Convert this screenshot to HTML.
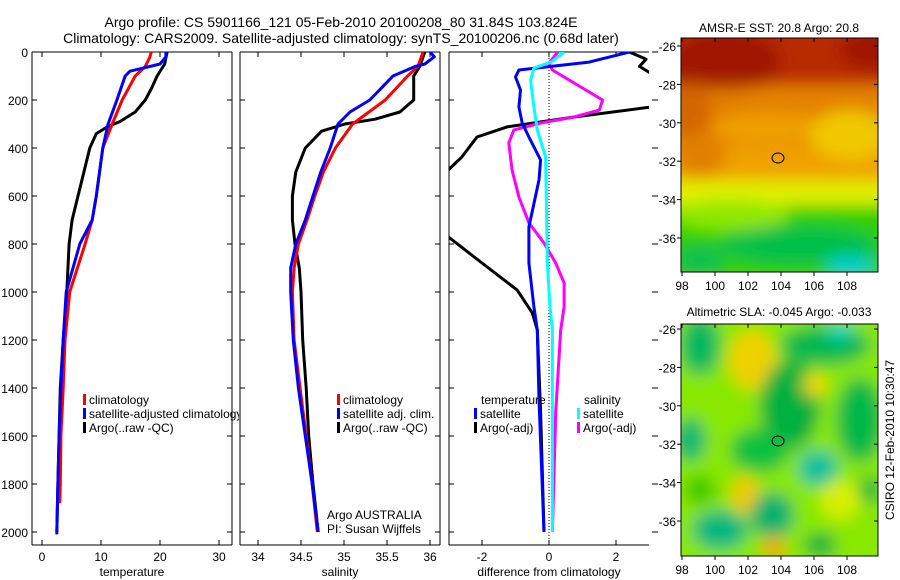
<!DOCTYPE html>
<html><head><meta charset="utf-8"><style>
html,body{margin:0;padding:0;background:#fff;}
svg{display:block;font-family:"Liberation Sans",sans-serif;}
</style></head><body>
<svg id="fig" width="900" height="580" viewBox="0 0 900 580" xmlns="http://www.w3.org/2000/svg">
<defs>
<clipPath id="c1"><rect x="32" y="52" width="200" height="493"/></clipPath>
<clipPath id="c1b"><rect x="32" y="52" width="207" height="493"/></clipPath>
<clipPath id="c2"><rect x="240" y="52" width="200" height="493"/></clipPath>
<clipPath id="c3"><rect x="449" y="52" width="200" height="493"/></clipPath>
<clipPath id="cm1"><rect x="681" y="38" width="197" height="234"/></clipPath>
<clipPath id="cm2"><rect x="681" y="324" width="197" height="232"/></clipPath>
<filter id="blur" x="-20%" y="-20%" width="140%" height="140%"><feGaussianBlur stdDeviation="8"/></filter>
</defs>
<text x="341" y="27" font-size="14" text-anchor="middle">Argo profile: CS 5901166_121 05-Feb-2010 20100208_80 31.84S 103.824E</text>
<text x="341" y="43" font-size="14" text-anchor="middle">Climatology: CARS2009. Satellite-adjusted climatology: synTS_20100206.nc (0.68d later)</text>

<!-- Map 1 -->
<g>
<g clip-path="url(#cm1)"><g filter="url(#blur)">
<rect x="660" y="20" width="240" height="270" fill="#f0a000"/>
<rect x="660" y="20" width="240" height="65" fill="#b82c00"/>
<ellipse cx="725" cy="62" rx="55" ry="32" fill="#a01800"/>
<ellipse cx="870" cy="50" rx="30" ry="20" fill="#a01800"/>
<ellipse cx="690" cy="110" rx="22" ry="32" fill="#b03000"/>
<rect x="660" y="85" width="240" height="60" fill="#e07800" opacity="0.75"/>
<ellipse cx="700" cy="155" rx="25" ry="22" fill="#e08000"/>
<ellipse cx="770" cy="128" rx="60" ry="14" fill="#f0a000"/>
<ellipse cx="850" cy="135" rx="40" ry="25" fill="#f0c800"/>
<rect x="660" y="180" width="240" height="30" fill="#e0f000"/>
<rect x="660" y="205" width="240" height="80" fill="#30d000"/>
<ellipse cx="730" cy="215" rx="60" ry="15" fill="#90e800"/>
<ellipse cx="800" cy="245" rx="80" ry="20" fill="#00c048"/>
<ellipse cx="850" cy="266" rx="25" ry="10" fill="#00d0d0"/>
<ellipse cx="700" cy="260" rx="25" ry="15" fill="#10c050"/>
</g></g>
<rect x="681" y="38" width="197" height="234" fill="none" stroke="#000"/>
<ellipse cx="778" cy="158" rx="6" ry="5" fill="none" stroke="#000"/>
<text x="779" y="32" font-size="12" text-anchor="middle">AMSR-E SST: 20.8 Argo: 20.8</text>
<g id="m1ticks"></g>
</g>

<!-- Map 2 -->
<g>
<g clip-path="url(#cm2)"><g filter="url(#blur)">
<rect x="660" y="300" width="240" height="280" fill="#88e800"/>
<ellipse cx="700" cy="345" rx="20" ry="30" fill="#00b860"/>
<ellipse cx="752" cy="360" rx="24" ry="30" fill="#f0d000"/>
<ellipse cx="825" cy="345" rx="45" ry="20" fill="#00b850"/>
<ellipse cx="840" cy="332" rx="14" ry="8" fill="#00d0c0"/>
<ellipse cx="790" cy="405" rx="30" ry="45" fill="#00b040"/>
<ellipse cx="815" cy="385" rx="12" ry="12" fill="#f0d800"/>
<ellipse cx="860" cy="420" rx="24" ry="42" fill="#00b848"/>
<ellipse cx="690" cy="440" rx="16" ry="22" fill="#00b870"/>
<ellipse cx="760" cy="450" rx="30" ry="22" fill="#10c040"/>
<ellipse cx="818" cy="468" rx="20" ry="18" fill="#00c0a0"/>
<ellipse cx="745" cy="495" rx="14" ry="20" fill="#f0c800"/>
<ellipse cx="772" cy="515" rx="22" ry="22" fill="#00b070"/>
<ellipse cx="720" cy="530" rx="28" ry="20" fill="#00b880"/>
<ellipse cx="774" cy="548" rx="12" ry="12" fill="#f0a800"/>
<ellipse cx="820" cy="545" rx="16" ry="12" fill="#00b040"/>
<ellipse cx="840" cy="500" rx="20" ry="20" fill="#d8f000"/>
<ellipse cx="870" cy="490" rx="10" ry="14" fill="#00b040"/>
<ellipse cx="700" cy="490" rx="15" ry="15" fill="#40c800"/>
</g></g>
<rect x="681" y="324" width="197" height="232" fill="none" stroke="#000"/>
<ellipse cx="778" cy="441" rx="6" ry="5" fill="none" stroke="#000"/>
<text x="779" y="316" font-size="12" text-anchor="middle">Altimetric SLA: -0.045 Argo: -0.033</text>
<g id="m2ticks"></g>
</g>
<text transform="translate(894,440) rotate(-90)" font-size="12" text-anchor="middle">CSIRO 12-Feb-2010 10:30:47</text>

<g id="p1"></g>
<g id="p2"></g>
<g id="p3"></g>
</svg>
<script>
// ---- data ----
const depthTicks = [0,200,400,600,800,1000,1200,1400,1600,1800,2000];
const tempTicks = [0,10,20,30];
const salTicks = [34,34.5,35,35.5,36];
const salTickLabels = ["34","34.5","35","35.5","36"];
const diffTicks = [-2,0,2];
const lonTicks = [98,100,102,104,106,108];
const latTicks = [-26,-28,-30,-32,-34,-36];

const tClimDepth = [0,20,60,100,200,300,400,600,700,800,1000,1200,1400,1600,1800,1880];
const tClimVal = [18.5,18.3,17.5,15.8,13.6,11.9,10.3,9.2,8.5,7.3,4.7,3.9,3.6,3.2,3.1,3.0];
const tSatDepth = [0,20,50,65,80,100,200,300,400,600,700,800,1000,1200,1400,1600,1800,2010];
const tSatVal = [21,21,20,17.5,14.9,14.1,12.7,11.2,10.3,9.2,8.5,6.4,4.1,3.6,3.2,2.9,2.7,2.5];
const tArgoDepth = [0,50,100,150,200,250,290,310,340,400,500,600,700,800,1000,1200,1400,1600,1800,2000];
const tArgoVal = [21.2,20.8,19.5,18.6,17.5,15.8,13.2,11.2,9.2,8.1,7.1,6.1,5.1,4.6,4.2,3.6,3.1,2.9,2.7,2.5];

const sClimDepth = [0,60,100,200,300,400,500,600,700,800,900,1000,1200,1400,1600,1800,2000];
const sClimVal = [35.92,35.86,35.74,35.48,35.10,34.90,34.76,34.66,34.57,34.47,34.42,34.40,34.42,34.49,34.56,34.63,34.69];
const sSatDepth = [0,20,50,60,100,200,250,300,400,500,600,700,800,900,1000,1200,1400,1600,1800,2000];
const sSatVal = [36.0,36.05,35.94,35.83,35.57,35.30,35.07,34.93,34.84,34.73,34.64,34.55,34.44,34.38,34.38,34.41,34.47,34.55,34.63,34.70];
const sArgoDepth = [0,60,100,200,250,280,300,330,400,500,600,700,800,900,1000,1200,1400,1600,1800,2000];
const sArgoVal = [35.94,35.88,35.81,35.81,35.65,35.36,35.01,34.74,34.55,34.44,34.40,34.40,34.43,34.48,34.50,34.52,34.56,34.59,34.64,34.70];

const dTSatDepth = [0,42,75,104,158,229,296,354,450,533,729,879,1062,1158,1450,2000];
const dTSatVal = [2.4,1.2,-0.9,-1.0,-0.85,-0.9,-0.8,-0.6,-0.25,-0.3,-0.6,-0.6,-0.45,-0.35,-0.3,-0.15];
const dTArgoDepth = [0,30,60,90,150,229,271,312,354,437,504,620,771,879,992,1087,1158,1500,2000];
const dTArgoVal = [2.4,2.9,2.7,3.05,3.6,3.05,0.75,-1.25,-2.15,-2.6,-3.1,-3.5,-3.0,-2.0,-0.95,-0.5,-0.35,-0.25,-0.15];
const dSSatDepth = [0,4,42,67,117,229,325,437,604,879,1062,1158,1500,2000];
const dSSatVal = [0.3,0.42,0.06,-0.45,-0.55,-0.45,-0.35,-0.1,-0.08,-0.05,0.03,0.1,0.1,0.1];
const dSArgoDepth = [0,46,75,129,200,242,271,296,325,379,492,604,712,796,879,962,1062,1158,1500,2000];
const dSArgoVal = [0.27,0,0.1,0.75,1.6,1.5,0.75,-0.25,-1.05,-1.2,-1.1,-0.9,-0.6,-0.15,0.2,0.45,0.45,0.35,0.2,0.1];

// ---- helpers ----
const NS = "http://www.w3.org/2000/svg";
function mk(parent, tag, attrs, txt){
  const e = document.createElementNS(NS, tag);
  for (const k in attrs) e.setAttribute(k, attrs[k]);
  if (txt !== undefined) e.textContent = txt;
  parent.appendChild(e); return e;
}
const yD = d => 52 + d*0.24;
const xT = t => 42 + 5.9*t;
const xS = s => 258 + 86*(s-34);
const xDf = v => 549 + 33.5*v;
const pTop = 52, pBot = 545;

function panel(g, L, R, xf, ticks, labels, title, showY, rightBorder){
  const a = mk(g,'g',{});
  
  
  mk(a,'line',{x1:L,y1:pTop,x2:R,y2:pTop,stroke:'#000'});
  mk(a,'line',{x1:L,y1:pBot,x2:R,y2:pBot,stroke:'#000'});
  mk(a,'line',{x1:L,y1:pTop,x2:L,y2:pBot,stroke:'#000'});
  if (rightBorder) mk(a,'line',{x1:R,y1:pTop,x2:R,y2:pBot,stroke:'#000'});
  depthTicks.forEach(d=>{
    const y = yD(d);
    mk(a,'line',{x1:L,y1:y,x2:L+5,y2:y,stroke:'#000'});
    if (rightBorder) mk(a,'line',{x1:R,y1:y,x2:R-5,y2:y,stroke:'#000'});
    else mk(a,'line',{x1:R+3,y1:y,x2:R+9,y2:y,stroke:'#000'});
    if (showY){
      const t = mk(a,'text',{x:L-4,y:y+5,'font-size':12,'text-anchor':'end'}, String(d));
      
      
    }
  });
  ticks.forEach((v,i)=>{
    const x = xf(v);
    mk(a,'line',{x1:x,y1:pTop,x2:x,y2:pTop+5,stroke:'#000'});
    mk(a,'line',{x1:x,y1:pBot,x2:x,y2:pBot-5,stroke:'#000'});
    const t = mk(a,'text',{x:x,y:561,'font-size':12,'text-anchor':'middle'}, labels[i]);
    
    
  });
  const tt = mk(a,'text',{x:(L+R)/2,y:576,'font-size':12,'text-anchor':'middle'}, title);
  
  
}
function line(g, clip, depths, vals, xf, color, name){
  const pts = depths.map((d,i)=>xf(vals[i]).toFixed(1)+','+yD(d).toFixed(1)).join(' ');
  const p = mk(g,'polyline',{points:pts,fill:'none',stroke:color,'stroke-width':3,'clip-path':'url(#'+clip+')','stroke-linejoin':'round'});
  
  
}
function legend(g, x, y, color, label, name){
  const r = mk(g,'rect',{x:x,y:y-10,width:3,height:11,fill:color});
  
  
  const t = mk(g,'text',{x:x+6,y:y,'font-size':12}, label);
  
  
}

// ---- panel 1 ----
const p1 = document.getElementById('p1');
panel(p1, 32, 232, xT, tempTicks, tempTicks.map(String), 'temperature', true, true);
line(p1,'c1',tArgoDepth,tArgoVal,xT,'#000','temp-argo-line');
line(p1,'c1',tClimDepth,tClimVal,xT,'#f00','temp-climatology-line');
line(p1,'c1',tSatDepth,tSatVal,xT,'#00f','temp-satellite-line');
const lg1 = mk(p1,'g',{'clip-path':'url(#c1b)'});


legend(lg1,83,404,'#f00','climatology','legend-climatology');
legend(lg1,83,418,'#00f','satellite-adjusted climatology','legend-satellite-adjusted');
legend(lg1,83,432,'#000','Argo(..raw -QC)','legend-argo');

// ---- panel 2 ----
const p2 = document.getElementById('p2');
panel(p2, 240, 440, xS, salTicks, salTickLabels, 'salinity', false, true);
line(p2,'c2',sArgoDepth,sArgoVal,xS,'#000','sal-argo-line');
line(p2,'c2',sClimDepth,sClimVal,xS,'#f00','sal-climatology-line');
line(p2,'c2',sSatDepth,sSatVal,xS,'#00f','sal-satellite-line');
legend(p2,337,404,'#f00','climatology','legend-sal-climatology');
legend(p2,337,418,'#00f','satellite adj. clim.','legend-sal-satellite');
legend(p2,337,432,'#000','Argo(..raw -QC)','legend-sal-argo');
const a1 = mk(p2,'text',{x:327,y:519,'font-size':12},'Argo AUSTRALIA');


const a2 = mk(p2,'text',{x:327,y:533,'font-size':12},'PI: Susan Wijffels');



// ---- panel 3 ----
const p3 = document.getElementById('p3');
panel(p3, 449, 649, xDf, diffTicks, diffTicks.map(String), 'difference from climatology', false, false);
const zl = mk(p3,'line',{x1:xDf(0),y1:pTop,x2:xDf(0),y2:pBot,stroke:'#000','stroke-dasharray':'1,2'});


line(p3,'c3',dTArgoDepth,dTArgoVal,xDf,'#000','diff-temp-argo-line');
line(p3,'c3',dSArgoDepth,dSArgoVal,xDf,'#f0f','diff-sal-argo-line');
line(p3,'c3',dTSatDepth,dTSatVal,xDf,'#00f','diff-temp-satellite-line');
line(p3,'c3',dSSatDepth,dSSatVal,xDf,'#0ff','diff-sal-satellite-line');
const h1 = mk(p3,'text',{x:481,y:404,'font-size':12},'temperature');


const h2 = mk(p3,'text',{x:584,y:404,'font-size':12},'salinity');


legend(p3,474,418,'#00f','satellite','legend-diff-temp-satellite');
legend(p3,474,432,'#000','Argo(-adj)','legend-diff-temp-argo');
legend(p3,577,418,'#0ff','satellite','legend-diff-sal-satellite');
legend(p3,577,432,'#f0f','Argo(-adj)','legend-diff-sal-argo');

// ---- map axes ----
function mapAxes(id, T, B, lat0y){
  const g = document.getElementById(id);
  const xL = lon => 682 + 16.5*(lon-98);
  const yL = lat => lat0y + 19.2*(-26-lat);
  lonTicks.forEach(l=>{
    const x = xL(l);
    mk(g,'line',{x1:x,y1:T,x2:x,y2:T+4,stroke:'#000'});
    mk(g,'line',{x1:x,y1:B,x2:x,y2:B+4,stroke:'#000'});
    const t = mk(g,'text',{x:x,y:B+18,'font-size':12,'text-anchor':'middle'}, String(l));
    
    
  });
  latTicks.forEach(l=>{
    const y = yL(l);
    mk(g,'line',{x1:677,y1:y,x2:681,y2:y,stroke:'#000'});
    mk(g,'line',{x1:878,y1:y,x2:874,y2:y,stroke:'#000'});
    const t = mk(g,'text',{x:676,y:y+5,'font-size':12,'text-anchor':'end'}, String(l));
    
    
  });
}
mapAxes('m1ticks', 38, 272, 46);
mapAxes('m2ticks', 324, 556, 329);
</script>
</body></html>
